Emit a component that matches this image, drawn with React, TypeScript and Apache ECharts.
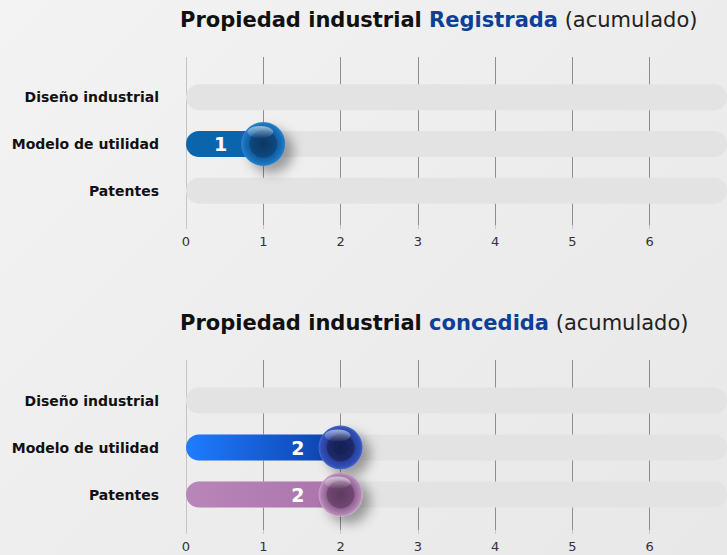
import React, { useEffect, useRef } from "react";
import * as echarts from "echarts";

const categories = ["Diseño industrial", "Modelo de utilidad", "Patentes"];
const registradaValues = [0, 1, 0];
const concedidaValues = [0, 2, 2];
const xMin = 0;
const xMax = 7;
const trackValues = [7, 7, 7];

const FONT = "'DejaVu Sans', sans-serif";

function radial(stops: [number, string][]) {
  return new echarts.graphic.RadialGradient(
    0.5,
    0.5,
    0.5,
    stops.map(([offset, color]) => ({ offset, color }))
  );
}
function linear(c1: string, c2: string) {
  return new echarts.graphic.LinearGradient(0, 0, 1, 0, [
    { offset: 0, color: c1 },
    { offset: 1, color: c2 },
  ]);
}

const barStyles = {
  top: [null, { color: "#0b65ad" }, null],
  bottom: [null, { color: linear("#1f7cff", "#0c3fa8") }, { color: linear("#b986b9", "#ab74ab") }],
};
const ballStyles = {
  top: [
    null,
    radial([[0, "#083761"], [0.6, "#0b4880"], [0.66, "#135fa3"], [0.9, "#1c74bd"], [1, "#2b88d0"]]),
    null,
  ],
  bottom: [
    null,
    radial([[0, "#141e52"], [0.6, "#1d2a68"], [0.66, "#2841a0"], [0.9, "#3150b6"], [1, "#4b6ad2"]]),
    radial([[0, "#5e3a60"], [0.6, "#704772"], [0.66, "#946596"], [0.9, "#b084b1"], [1, "#cba4cc"]]),
  ],
};

export default function App() {
  const ref = useRef<HTMLDivElement>(null);
  useEffect(() => {
    if (!ref.current) return;
    const chart = echarts.init(ref.current, null, { renderer: "svg" });

    const lineGrid = (top: number, height: number) => ({ left: 186, right: 0, top, height });
    const grids = [lineGrid(57, 168), lineGrid(74, 140), lineGrid(360, 170), lineGrid(377, 141)];

    const splitColors = ["#c4c4c4", "#8e8e8e", "#8e8e8e", "#8e8e8e", "#8e8e8e", "#8e8e8e", "#8e8e8e", "#8e8e8e"];

    const lineX = (gi: number) => ({
      type: "value",
      gridIndex: gi,
      min: xMin,
      max: xMax,
      interval: 1,
      axisLine: { show: false },
      axisTick: { show: true, length: 4, lineStyle: { color: "#c8c8c8" } },
      splitLine: { show: true, lineStyle: { color: splitColors, width: 1 } },
      axisLabel: {
        margin: 10,
        color: "#333333",
        fontFamily: FONT,
        fontSize: 13,
        showMaxLabel: false,
        formatter: (v: number) => (v >= xMax ? "" : String(v)),
      },
    });
    const barX = (gi: number) => ({
      type: "value",
      gridIndex: gi,
      min: xMin,
      max: xMax,
      show: false,
    });
    const lineY = (gi: number) => ({ type: "value", gridIndex: gi, show: false });
    const barY = (gi: number) => ({
      type: "category",
      gridIndex: gi,
      data: categories,
      inverse: true,
      axisLine: { show: false },
      axisTick: { show: false },
      axisLabel: {
        margin: 27,
        color: "#111",
        fontFamily: FONT,
        fontWeight: "bold",
        fontSize: 14,
      },
    });

    const makeSeries = (axisIdx: number, values: number[], key: "top" | "bottom") => {
      const bs = barStyles[key];
      const balls = ballStyles[key];
      return [
        {
          type: "bar",
          xAxisIndex: axisIdx,
          yAxisIndex: axisIdx,
          data: trackValues,
          barWidth: 26,
          barGap: "-100%",
          silent: true,
          itemStyle: { color: "#e3e3e3", borderRadius: 13 },
          z: 1,
        },
        {
          type: "bar",
          xAxisIndex: axisIdx,
          yAxisIndex: axisIdx,
          barWidth: 26,
          barGap: "-100%",
          data: values.map((v, i) =>
            v > 0 ? { value: v, itemStyle: { ...(bs[i] as any), borderRadius: 13 } } : "-"
          ),
          label: {
            show: true,
            position: "insideRight",
            distance: 36,
            color: "#fff",
            fontFamily: FONT,
            fontWeight: "bold",
            fontSize: 19,
          },
          z: 2,
        },
        {
          type: "scatter",
          xAxisIndex: axisIdx,
          yAxisIndex: axisIdx,
          symbol: "circle",
          symbolSize: 44,
          data: values
            .map((v, i) =>
              v > 0
                ? {
                    value: [v, categories[i]],
                    itemStyle: {
                      opacity: 1,
                      color: balls[i],
                      shadowBlur: 12,
                      shadowOffsetX: 8,
                      shadowOffsetY: 7,
                      shadowColor: "rgba(0,0,0,0.35)",
                    },
                  }
                : null
            )
            .filter(Boolean),
          z: 3,
        },
        {
          type: "scatter",
          xAxisIndex: axisIdx,
          yAxisIndex: axisIdx,
          symbol: "circle",
          symbolSize: [26, 12],
          symbolOffset: [-3, -12],
          silent: true,
          itemStyle: {
            opacity: 1,
            color: new echarts.graphic.LinearGradient(0, 0, 0, 1, [
              { offset: 0, color: "rgba(255,255,255,0.55)" },
              { offset: 1, color: "rgba(255,255,255,0.03)" },
            ]),
          },
          data: values.map((v, i) => (v > 0 ? [v, categories[i]] : null)).filter(Boolean),
          z: 4,
        },
      ];
    };

    const titleRich = {
      b: { fontFamily: FONT, fontWeight: "bold", fontSize: 21, color: "#111" },
      h: { fontFamily: FONT, fontWeight: "bold", fontSize: 21, color: "#0d3f98" },
      n: { fontFamily: FONT, fontWeight: "normal", fontSize: 21, color: "#222" },
    };

    chart.setOption({
      animation: false,
      backgroundColor: "transparent",
      title: [
        {
          left: 180,
          top: 9,
          padding: 0,
          text: "{b|Propiedad industrial }{h|Registrada}{n| (acumulado)}",
          textStyle: { rich: titleRich },
        },
        {
          left: 180,
          top: 312,
          padding: 0,
          text: "{b|Propiedad industrial }{h|concedida}{n| (acumulado)}",
          textStyle: { rich: titleRich },
        },
      ],
      grid: grids,
      xAxis: [lineX(0), barX(1), lineX(2), barX(3)],
      yAxis: [lineY(0), barY(1), lineY(2), barY(3)],
      series: [
        { type: "scatter", xAxisIndex: 0, yAxisIndex: 0, data: [] },
        { type: "scatter", xAxisIndex: 2, yAxisIndex: 2, data: [] },
        ...makeSeries(1, registradaValues, "top"),
        ...makeSeries(3, concedidaValues, "bottom"),
      ],
    });
    return () => chart.dispose();
  }, []);

  return (
    <div
      style={{
        position: "absolute",
        left: 0,
        top: 0,
        width: 727,
        height: 555,
        overflow: "hidden",
        background: "linear-gradient(135deg, #f3f3f3 0%, #ececec 60%, #e8e8e8 100%)",
      }}
    >
      <div ref={ref} style={{ width: 727, height: 555 }} />
    </div>
  );
}
